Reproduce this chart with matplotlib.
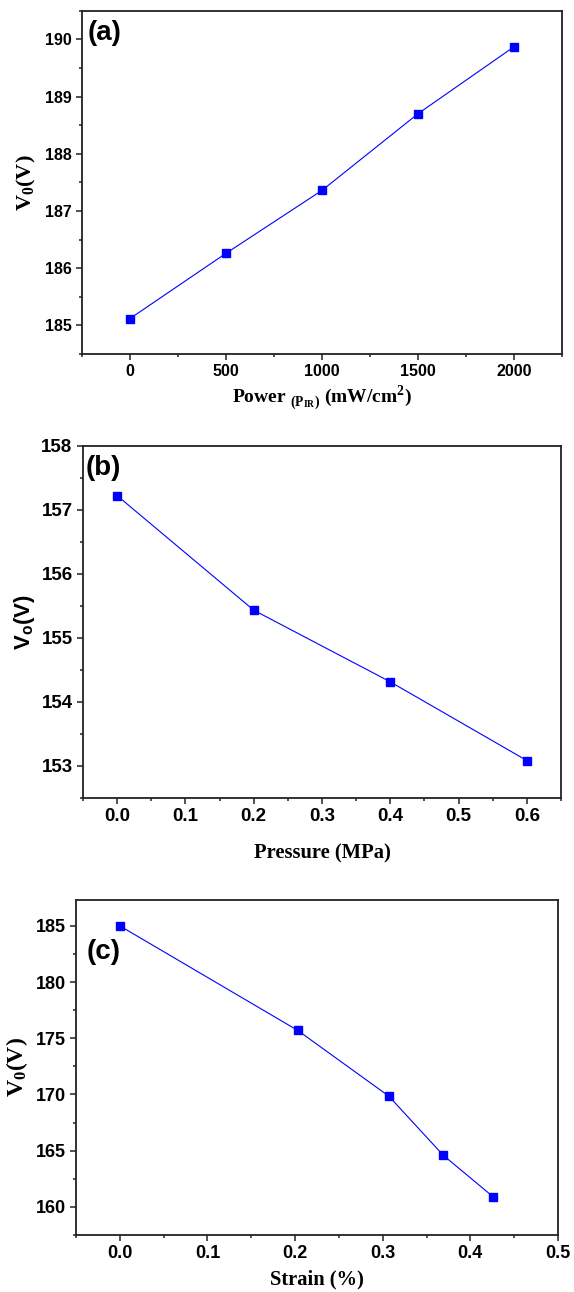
import matplotlib
matplotlib.use("Agg")
import matplotlib.pyplot as plt
from matplotlib.ticker import MultipleLocator

plt.rcParams["mathtext.fontset"] = "custom"
plt.rcParams["mathtext.bf"] = "Liberation Serif:bold"
plt.rcParams["mathtext.rm"] = "Liberation Serif:bold"
plt.rcParams["mathtext.sf"] = "Liberation Sans:bold"

# (a) IR power dependence
power = [0, 500, 1000, 1500, 2000]
v0_power = [185.12, 186.26, 187.36, 188.70, 189.87]

# (b) pressure dependence
pressure = [0.0, 0.2, 0.4, 0.6]
v0_pressure = [157.22, 155.43, 154.31, 153.08]

# (c) strain dependence
strain = [0.0, 0.203, 0.307, 0.369, 0.426]
v0_strain = [185.0, 175.7, 169.85, 164.6, 160.9]

BLUE = "#0000ff"
SPINE = "#222222"
SANS = "Liberation Sans"
SERIF = "Liberation Serif"

fig = plt.figure(figsize=(5.74, 12.92), dpi=100)


def style(ax, tick_size):
    for s in ax.spines.values():
        s.set_color(SPINE)
        s.set_linewidth(1.3)
    ax.tick_params(which="both", direction="out", top=False, right=False,
                   color=SPINE, width=1.1)
    ax.tick_params(which="major", length=4)
    ax.tick_params(which="minor", length=2.5)
    for lab in ax.get_xticklabels() + ax.get_yticklabels():
        lab.set_fontfamily(SANS)
        lab.set_fontweight("bold")
        lab.set_fontsize(tick_size)


def series(ax, x, y):
    ax.plot(x, y, color=BLUE, lw=0.8, marker="s", ms=5.2,
            markerfacecolor=BLUE, markeredgecolor=BLUE)


# ---- (a)
ax1 = fig.add_axes([0.1429, 0.7260, 0.8362, 0.2657])
series(ax1, power, v0_power)
ax1.set_xlim(-250, 2250)
ax1.set_ylim(184.5, 190.5)
ax1.xaxis.set_major_locator(MultipleLocator(500))
ax1.xaxis.set_minor_locator(MultipleLocator(250))
ax1.yaxis.set_major_locator(MultipleLocator(1))
ax1.yaxis.set_minor_locator(MultipleLocator(0.5))
style(ax1, 11.5)
ax1.set_xlabel(r"Power $_\mathbf{(P_{IR})}$ (mW/cm$^\mathbf{2}$)",
               fontfamily=SERIF, fontweight="bold", fontsize=14, labelpad=3)
ax1.set_ylabel(r"$\mathbf{V_0(V)}$", fontsize=16, labelpad=5)
ax1.text(0.012, 0.935, "(a)", transform=ax1.transAxes, fontfamily=SANS,
         fontweight="bold", fontsize=20, va="center", ha="left")

# ---- (b)
ax2 = fig.add_axes([0.1446, 0.3826, 0.8328, 0.2724])
series(ax2, pressure, v0_pressure)
ax2.set_xlim(-0.05, 0.65)
ax2.set_ylim(152.5, 158)
ax2.xaxis.set_major_locator(MultipleLocator(0.1))
ax2.xaxis.set_minor_locator(MultipleLocator(0.05))
ax2.yaxis.set_major_locator(MultipleLocator(1))
ax2.yaxis.set_minor_locator(MultipleLocator(0.5))
ax2.xaxis.set_major_formatter(plt.FormatStrFormatter("%.1f"))
style(ax2, 13.5)
ax2.set_xlabel("Pressure (MPa)", fontfamily=SERIF, fontweight="bold",
               fontsize=14.8, labelpad=13)
ax2.set_ylabel(r"$\mathsf{V_o(V)}$", fontsize=16, labelpad=3)
ax2.text(0.005, 0.937, "(b)", transform=ax2.transAxes, fontfamily=SANS,
         fontweight="bold", fontsize=20, va="center", ha="left")

# ---- (c)
ax3 = fig.add_axes([0.1324, 0.0441, 0.8397, 0.2593])
series(ax3, strain, v0_strain)
ax3.set_xlim(-0.05, 0.5)
ax3.set_ylim(157.5, 187.3)
ax3.xaxis.set_major_locator(MultipleLocator(0.1))
ax3.xaxis.set_minor_locator(MultipleLocator(0.05))
ax3.yaxis.set_major_locator(MultipleLocator(5))
ax3.yaxis.set_minor_locator(MultipleLocator(2.5))
ax3.xaxis.set_major_formatter(plt.FormatStrFormatter("%.1f"))
style(ax3, 13)
ax3.set_xlabel("Strain (%)", fontfamily=SERIF, fontweight="bold",
               fontsize=14.8, labelpad=5)
ax3.set_ylabel(r"$\mathbf{V_0(V)}$", fontsize=17, labelpad=4)
ax3.text(0.023, 0.846, "(c)", transform=ax3.transAxes, fontfamily=SANS,
         fontweight="bold", fontsize=20, va="center", ha="left")

fig.savefig("out.png", dpi=100)
